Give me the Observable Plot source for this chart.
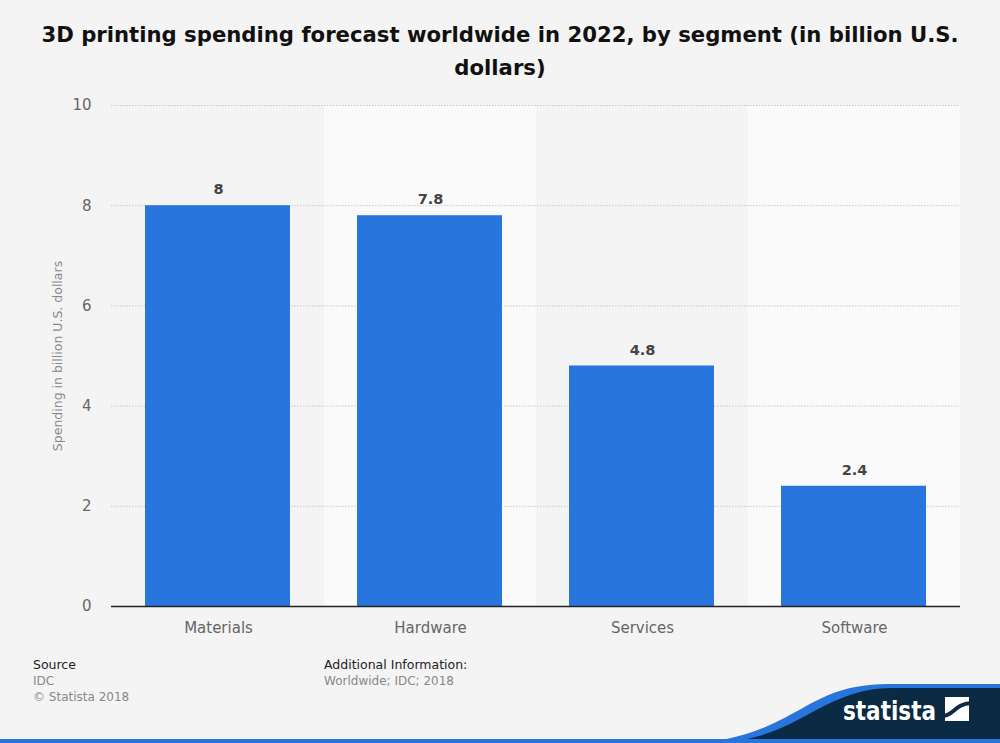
<!DOCTYPE html>
<html>
<head>
<meta charset="utf-8">
<script src="https://cdn.jsdelivr.net/npm/d3@7"></script>
<script src="https://cdn.jsdelivr.net/npm/@observablehq/plot@0.6"></script>
<style>
  html, body { margin:0; padding:0; background:#f4f4f4; }
  body { width:1000px; height:743px; position:relative; overflow:hidden; font-family:"DejaVu Sans", sans-serif; }
  #title { position:absolute; left:0; top:18px; width:1000px; text-align:center; font-weight:bold; font-size:21.2px; line-height:33px; color:#111; }
  #chart { position:absolute; left:0; top:90px; }
  .foot { position:absolute; font-size:12px; line-height:16px; }
  .foot .h { color:#222; font-size:12.5px; }
  .foot .g { color:#888; }
  #logo { position:absolute; left:0; top:670px; }
  #chart g[aria-label="x-axis tick label"] text { letter-spacing:0.6px; }
</style>
</head>
<body>
<div id="title">3D printing spending forecast worldwide in 2022, by segment (in billion U.S.<br>dollars)</div>
<div id="chart"></div>
<div class="foot" style="left:33px; top:657px;"><div class="h">Source</div><div class="g">IDC</div><div class="g">© Statista 2018</div></div>
<div class="foot" style="left:324px; top:657px;"><div class="h">Additional Information:</div><div class="g">Worldwide; IDC; 2018</div></div>
<svg id="logo" width="1000" height="73" viewBox="0 670 1000 73">
  <path d="M700,743 C780,735 800,700 850,688 C870,684 880,684 900,684 L1000,684 L1000,743 Z" fill="#2876dd"/>
  <path d="M720,743 C790,737 810,705 860,692 C875,688 885,688 905,688 L1000,688 L1000,743 Z" fill="#0b2a44"/>
  <rect x="0" y="739" width="1000" height="4" fill="#2876dd"/>
  <text x="843" y="720" fill="#fff" font-family="DejaVu Sans" font-weight="bold" font-size="27" textLength="93" lengthAdjust="spacingAndGlyphs">statista</text>
  <rect x="945" y="697" width="24" height="24" fill="#fff"/>
  <path d="M943,716 C953,716 955,704 971,703" fill="none" stroke="#0b2a44" stroke-width="4"/>
</svg>
<script>
const categories = ["Materials", "Hardware", "Services", "Software"];
const values = [8, 7.8, 4.8, 2.4];
const yTicks = [0, 2, 4, 6, 8, 10];
const yLabel = "Spending in billion U.S. dollars";

const data = categories.map((c, i) => ({segment: c, value: values[i]}));
const lightBands = categories.filter((c, i) => i % 2 === 1);

const chart = Plot.plot({
  width: 1000,
  height: 560,
  marginTop: 15,
  marginBottom: 44,
  marginLeft: 111,
  marginRight: 40,
  style: {background: "transparent", fontFamily: "DejaVu Sans", fontSize: "15px", color: "#666"},
  x: {domain: categories, padding: 0, label: null},
  y: {domain: [0, 10], label: null},
  marks: [
    Plot.barY(lightBands, {x: d => d, y1: 0, y2: 10, fill: "#fafafa"}),
    Plot.gridY(yTicks, {stroke: "#c8c8c8", strokeDasharray: "1.5,1.5", strokeOpacity: 1}),
    Plot.barY(data, {x: "segment", y: "value", fill: "#2775dd", insetLeft: 33, insetRight: 34}),
    Plot.text(data, {x: "segment", y: "value", text: d => String(d.value), dy: -16, fontWeight: "bold", fill: "#444", fontSize: 14.5}),
    Plot.ruleY([0], {stroke: "#222", strokeWidth: 1.3}),
    Plot.axisX({tickSize: 0, tickPadding: 16, fill: "#666", fontSize: 15, label: null, ariaLabel: "x-axis tick label"}),
    Plot.axisY(yTicks, {tickSize: 0, tickPadding: 20, fill: "#666", fontSize: 15, tickFormat: d => String(d), label: null}),
    Plot.axisY(yTicks, {tickSize: 0, tickFormat: () => "", label: yLabel, labelAnchor: "center", labelOffset: 58, labelArrow: "none", fill: "#888", fontSize: 12.5})
  ]
});
document.getElementById("chart").appendChild(chart);
</script>
</body>
</html>
